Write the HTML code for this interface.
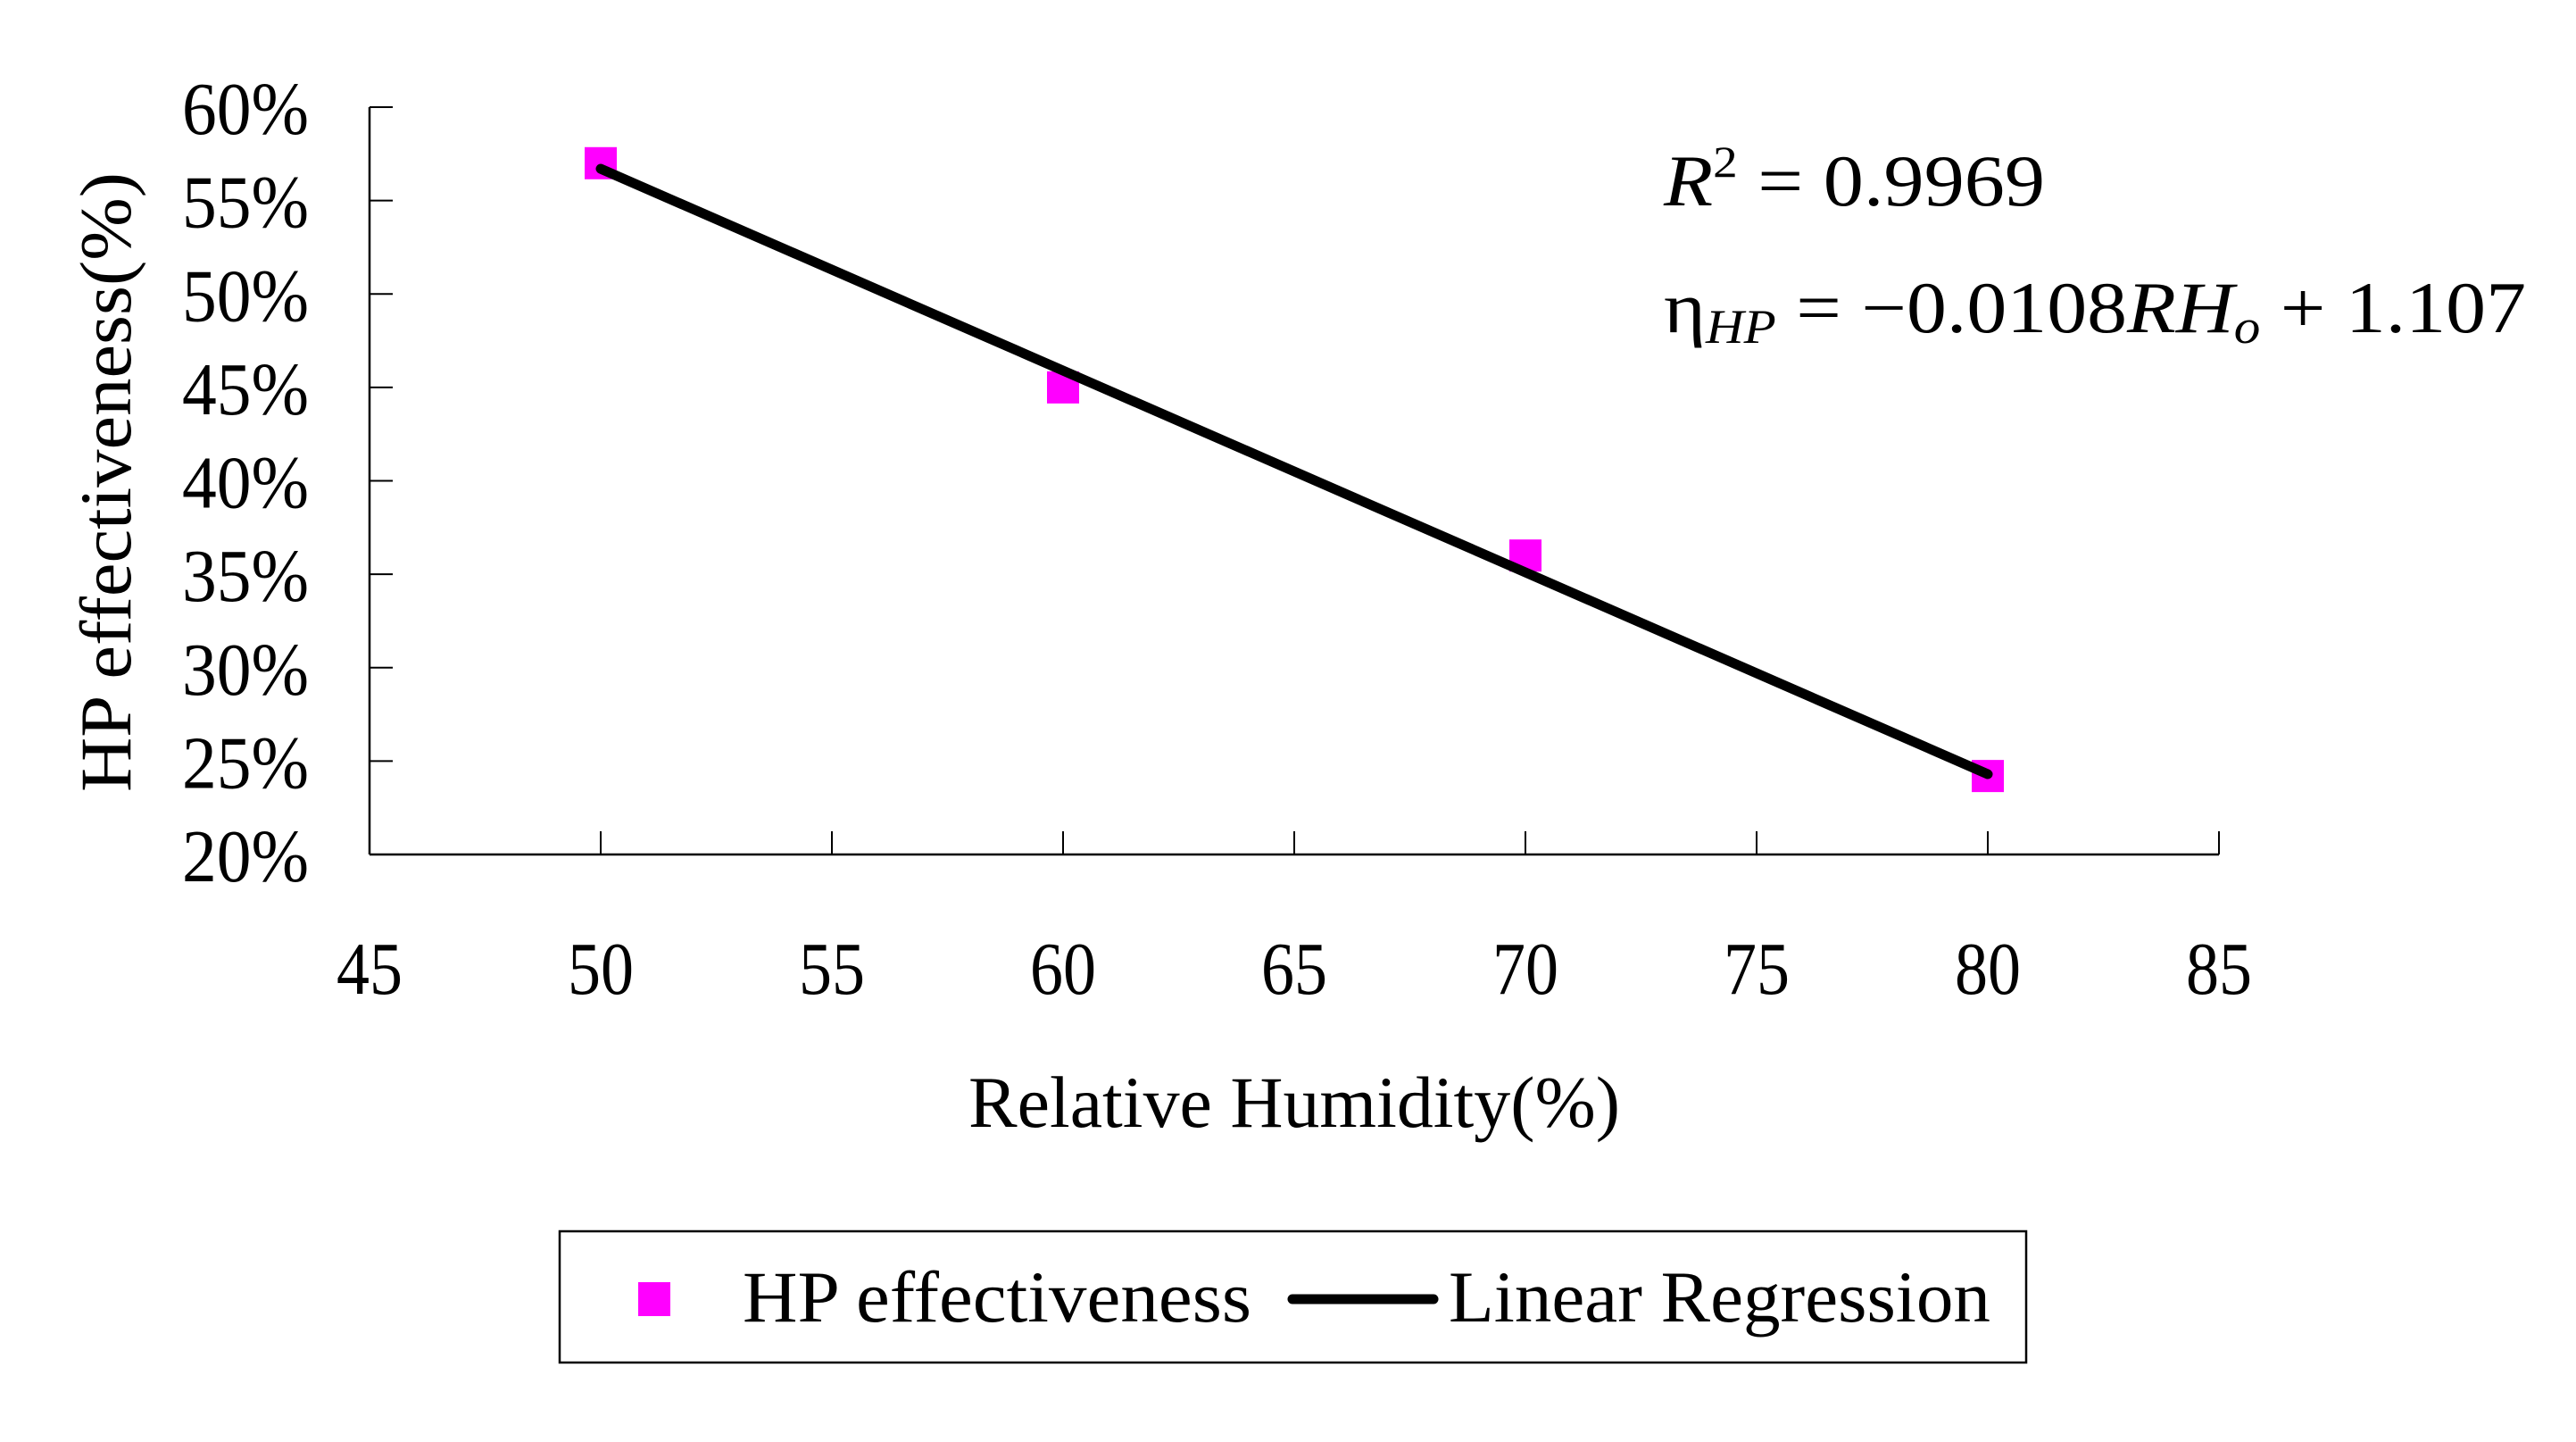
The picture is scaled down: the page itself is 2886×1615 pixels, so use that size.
<!DOCTYPE html>
<html><head><meta charset="utf-8"><style>
html,body{margin:0;padding:0;background:#fff;}
svg{display:block;font-family:"Liberation Serif",serif;}
</style></head><body>
<svg id="chart" width="2886" height="1615" viewBox="0 0 2886 1615" xmlns="http://www.w3.org/2000/svg">
<rect width="2886" height="1615" fill="#fff"/>
<g id="axes"></g>
<g id="marks"></g>
<text transform="translate(146,540) rotate(-90)" text-anchor="middle" font-size="82" textLength="694" lengthAdjust="spacingAndGlyphs">HP effectiveness(%)</text>
<text x="1450" y="1262" text-anchor="middle" font-size="82" textLength="730" lengthAdjust="spacingAndGlyphs">Relative Humidity(%)</text>
<text x="1864" y="230" font-size="82" textLength="427" lengthAdjust="spacingAndGlyphs"><tspan font-style="italic">R</tspan><tspan dy="-32" font-size="50">2</tspan><tspan dy="32"> = 0.9969</tspan></text>
<text x="1864" y="372" font-size="82" textLength="966" lengthAdjust="spacingAndGlyphs">η<tspan font-style="italic" font-size="54" dy="12">HP</tspan><tspan dy="-12"> = −0.0108</tspan><tspan font-style="italic">RH</tspan><tspan font-style="italic" font-size="54" dy="12">o</tspan><tspan dy="-12"> + 1.107</tspan></text>
<g>
<rect x="627" y="1379" width="1643" height="147" fill="#fff" stroke="#000" stroke-width="2.5"/>
<rect x="715" y="1436" width="36" height="38" fill="#ff00ff"/>
<text x="832" y="1480" font-size="82" textLength="570" lengthAdjust="spacingAndGlyphs">HP effectiveness</text>
<line x1="1448" y1="1455" x2="1606" y2="1455" stroke="#000" stroke-width="11" stroke-linecap="round"/>
<text x="1623" y="1480" font-size="82" textLength="607" lengthAdjust="spacingAndGlyphs">Linear Regression</text>
</g>
</svg>
<script>
const xTicks = [45, 50, 55, 60, 65, 70, 75, 80, 85];
const yTicks = [20, 25, 30, 35, 40, 45, 50, 55, 60];
const rhValues = [50, 60, 70, 80];
const effValues = [57.0, 45.0, 36.0, 24.2];
const slope = -1.08;
const intercept = 110.7;

const X0 = 414, X1 = 2486, Y0 = 957, Y1 = 120;
function sx(v){ return X0 + (v - 45) / 40 * (X1 - X0); }
function sy(v){ return Y0 - (v - 20) / 40 * (Y0 - Y1); }
const NS = "http://www.w3.org/2000/svg";
const axes = document.getElementById('axes');
const marks = document.getElementById('marks');
function mk(tag, attrs, parent){ const e = document.createElementNS(NS, tag); for (const k in attrs) e.setAttribute(k, attrs[k]); parent.appendChild(e); return e; }

let yAxis = mk('line', {x1:X0, y1:Y1, x2:X0, y2:Y0, stroke:'#000', 'stroke-width':2.5}, axes);


let xAxis = mk('line', {x1:X0, y1:Y0, x2:X1, y2:Y0, stroke:'#000', 'stroke-width':2.5}, axes);



yTicks.forEach(v => {
  const y = sy(v);
  const t = mk('line', {x1:X0, y1:y, x2:X0+26, y2:y, stroke:'#000', 'stroke-width':2}, axes);
  
  
  const l = mk('text', {x:346, y:y+30, 'text-anchor':'end', 'font-size':84, textLength:142, lengthAdjust:'spacingAndGlyphs'}, axes);
  
  
  l.textContent = v + '%';
});
xTicks.forEach(v => {
  const x = sx(v);
  const t = mk('line', {x1:x, y1:Y0, x2:x, y2:Y0-26, stroke:'#000', 'stroke-width':2}, axes);
  
  
  const l = mk('text', {x:x, y:1113, 'text-anchor':'middle', 'font-size':84, textLength:74, lengthAdjust:'spacingAndGlyphs'}, axes);
  
  
  l.textContent = v;
});

rhValues.forEach((v, i) => {
  const p = mk('rect', {x:sx(v)-18, y:sy(effValues[i])-18, width:36, height:36, fill:'#ff00ff'}, marks);
  
  
});
const xa = rhValues[0], xb = rhValues[rhValues.length-1];
const reg = mk('line', {x1:sx(xa), y1:sy(slope*xa+intercept), x2:sx(xb), y2:sy(slope*xb+intercept), stroke:'#000', 'stroke-width':11, 'stroke-linecap':'round'}, marks);


</script>
</body></html>
